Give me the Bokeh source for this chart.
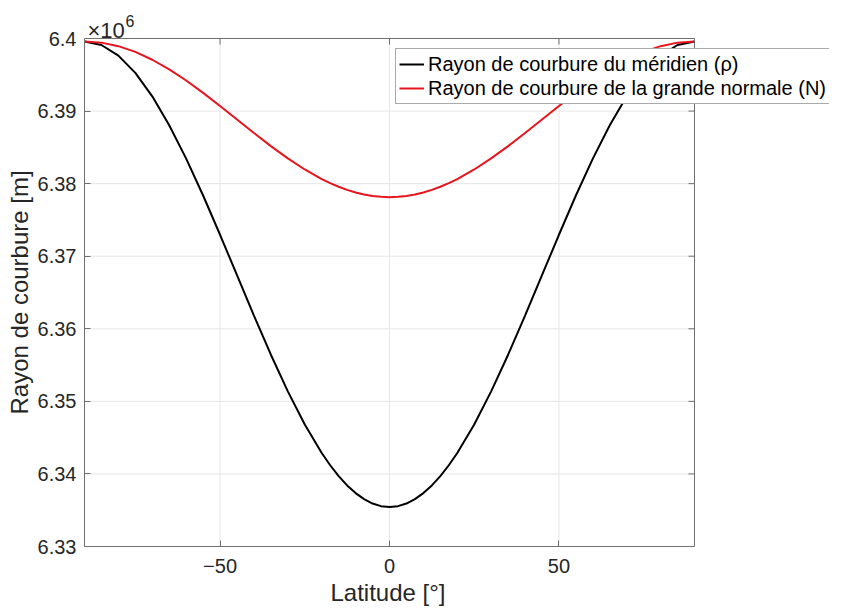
from bokeh.plotting import figure
from bokeh.models import (ColumnDataSource, Legend, LegendItem, FixedTicker,
                          CustomJSTickFormatter, Range1d, Label, Title)
from bokeh.embed import file_html
from bokeh.resources import INLINE

# Latitude [deg]
latitude = [-90, -85, -80, -75, -70, -65, -60, -55, -50, -45, -40, -35, -30, -25, -20, -17.5, -15,
            -12.5, -10, -7.5, -5, -2.5, 0, 2.5, 5, 7.5, 10, 12.5, 15, 17.5, 20, 25, 30, 35, 40,
            45, 50, 55, 60, 65, 70, 75, 80, 85, 90]
# Radius of curvature of the meridian, rho [m]
rho = [6399594, 6399102, 6397643, 6395262, 6392033, 6388056, 6383453, 6378368, 6372955,
       6367382, 6361816, 6356426, 6351377, 6346819, 6342888, 6341196, 6339703, 6338420,
       6337358, 6336523, 6335922, 6335560, 6335439, 6335560, 6335922, 6336523, 6337358,
       6338420, 6339703, 6341196, 6342888, 6346819, 6351377, 6356426, 6361816, 6367382,
       6372955, 6378368, 6383453, 6388056, 6392033, 6395262, 6397643, 6399102, 6399594]
# Radius of curvature of the prime vertical, N [m]
n_vals = [6399594, 6399430, 6398943, 6398150, 6397072, 6395745, 6394209, 6392511, 6390703,
          6388838, 6386976, 6385172, 6383481, 6381954, 6380636, 6380068, 6379568, 6379137,
          6378781, 6378501, 6378299, 6378178, 6378137, 6378178, 6378299, 6378501, 6378781,
          6379137, 6379568, 6380068, 6380636, 6381954, 6383481, 6385172, 6386976, 6388838,
          6390703, 6392511, 6394209, 6395745, 6397072, 6398150, 6398943, 6399430, 6399594]

x_lim = [-90, 90]
y_lim = [6.33, 6.40]
y_ticks = [6.33, 6.34, 6.35, 6.36, 6.37, 6.38, 6.39, 6.40]
x_ticks = [-50, 0, 50]
scale = 1e6

src = ColumnDataSource(dict(lat=latitude,
                            rho=[v / scale for v in rho],
                            n=[v / scale for v in n_vals]))

FONT = "Liberation Sans"
AX = "#707070"
GRID = "#e6e6e6"
TXT = "#262626"

# canvas / box geometry (px)
W, H = 829, 612
LEFT, BOTTOM = 84, 66
BOX_W, BOX_H, BOX_TOP = 610, 508, 38
FRAME_W = W - LEFT
FRAME_H = H - BOTTOM
dx = (x_lim[1] - x_lim[0]) / BOX_W     # data units per px
dy = (y_lim[1] - y_lim[0]) / BOX_H
x_end = x_lim[0] + FRAME_W * dx
y_end = y_lim[0] + FRAME_H * dy

p = figure(width=W, height=H, output_backend="svg", toolbar_location=None,
           x_range=Range1d(x_lim[0], x_end), y_range=Range1d(y_lim[0], y_end),
           min_border_left=LEFT, min_border_right=0, min_border_top=0, min_border_bottom=BOTTOM)
p.outline_line_color = None
p.xgrid.visible = False
p.ygrid.visible = False
p.background_fill_color = "white"
p.border_fill_color = "white"

ny, nx = len(y_ticks), len(x_ticks)
# grid lines limited to the axes box
p.segment(x0=[x_lim[0]] * ny, x1=[x_lim[1]] * ny, y0=y_ticks, y1=y_ticks,
          line_color=GRID, line_width=1, level="underlay")
p.segment(x0=x_ticks, x1=x_ticks, y0=[y_lim[0]] * nx, y1=[y_lim[1]] * nx,
          line_color=GRID, line_width=1, level="underlay")

r1 = p.line("lat", "rho", source=src, line_color="black", line_width=2)
r2 = p.line("lat", "n", source=src, line_color="#e8141c", line_width=2)

# top and right edges of the box with inward ticks
p.segment(x0=[x_lim[0], x_lim[1]], x1=[x_lim[1], x_lim[1]], y0=[y_lim[1], y_lim[0]],
          y1=[y_lim[1], y_lim[1]], line_color=AX, line_width=1)
p.segment(x0=[x_lim[1] - 6 * dx] * ny, x1=[x_lim[1]] * ny, y0=y_ticks, y1=y_ticks,
          line_color=AX, line_width=1)
p.segment(x0=x_ticks, x1=x_ticks, y0=[y_lim[1] - 6 * dy] * nx, y1=[y_lim[1]] * nx,
          line_color=AX, line_width=1)

fmt = CustomJSTickFormatter(code="return parseFloat(tick.toFixed(2)).toString();")
bottom = p.below[0]
left = p.left[0]
bottom.ticker = FixedTicker(ticks=x_ticks)
left.ticker = FixedTicker(ticks=y_ticks)
left.formatter = fmt
bottom.bounds = tuple(x_lim)
left.bounds = tuple(y_lim)

for ax in [bottom, left]:
    ax.axis_line_color = AX
    ax.major_tick_line_color = AX
    ax.major_tick_in = 6
    ax.major_tick_out = 0
    ax.minor_tick_line_color = None
    ax.major_label_text_font = FONT
    ax.major_label_text_font_size = "20px"
    ax.major_label_text_color = TXT
bottom.major_label_standoff = 12
left.major_label_standoff = 8

# axis titles, centred on the axes box (the frame itself is wider/taller than the box)
p.add_layout(Title(text="Latitude [°]", align="left", offset=246, standoff=6,
                   vertical_align="top", text_font=FONT, text_font_size="24px",
                   text_font_style="normal", text_color=TXT), "below")
p.add_layout(Title(text="Rayon de courbure [m]", align="left", offset=132, standoff=4,
                   text_font=FONT, text_font_size="24px", text_font_style="normal",
                   text_color=TXT), "left")

# exponent label above the box
p.add_layout(Label(x=x_lim[0], y=y_lim[1], x_offset=3, y_offset=8, text="×10", text_font=FONT,
                   text_font_size="22px", text_color=TXT, text_baseline="alphabetic"))
p.add_layout(Label(x=x_lim[0], y=y_lim[1], x_offset=41, y_offset=18, text="6", text_font=FONT,
                   text_font_size="16px", text_color=TXT, text_baseline="alphabetic"))

legend = Legend(items=[
    LegendItem(label="Rayon de courbure du méridien (ρ)", renderers=[r1]),
    LegendItem(label="Rayon de courbure de la grande normale (N)", renderers=[r2]),
], location=(311, 442))
legend.label_text_font = FONT
legend.label_text_font_size = "20px"
legend.label_text_color = "#000000"
legend.border_line_color = "#555555"
legend.border_line_width = 1
legend.background_fill_color = "white"
legend.background_fill_alpha = 1
legend.padding = 3
legend.spacing = 0
legend.margin = 0
legend.glyph_width = 25
legend.label_standoff = 4
legend.label_height = 24
legend.glyph_height = 24
p.add_layout(legend, "center")

open("out.html", "w").write(file_html(p, INLINE))
